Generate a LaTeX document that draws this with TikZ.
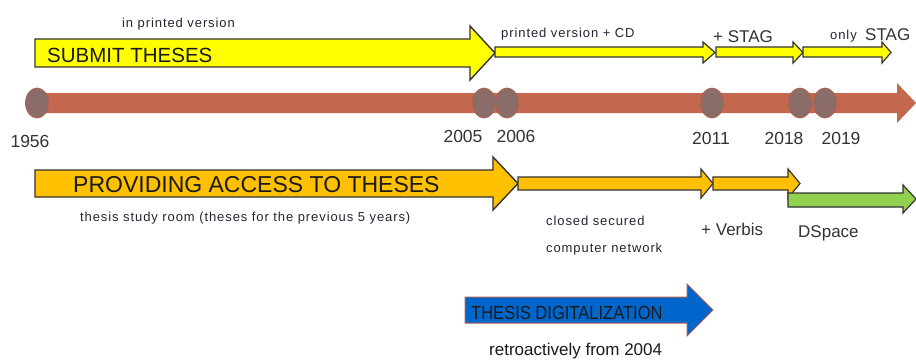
\documentclass[tikz,border=0pt]{standalone}
\usepackage{fontspec}
\usepackage{graphicx}
\usetikzlibrary{shapes.geometric}
\setmainfont{Liberation Sans}
\newfontfamily\smf[LetterSpace=7]{Liberation Sans}
\definecolor{yel}{HTML}{FFFF00}
\definecolor{ora}{HTML}{FFC000}
\definecolor{grn}{HTML}{92D050}
\definecolor{blu}{HTML}{0066CC}
\definecolor{barc}{HTML}{C3674F}
\definecolor{dotc}{HTML}{8A6C68}
\definecolor{dotedge}{HTML}{B0604C}
\definecolor{edge}{HTML}{333333}
\definecolor{txt}{HTML}{1A1A1A}
\definecolor{smtxt}{HTML}{222633}
\definecolor{yeartxt}{HTML}{333333}
\newcommand{\blockarrow}[8]{%
  \draw[#1] (#2,#5) -- (#3,#5) -- (#3,#7) -- (#4,{(#7+#8)/2}) -- (#3,#8) -- (#3,#6) -- (#2,#6) -- cycle;}
\begin{document}
\begin{tikzpicture}[x=1pt,y=-1pt,
  bigarrow/.style={draw=edge, line width=1.4pt, line join=miter},
  smallarrow/.style={draw=edge, line width=1.2pt, line join=miter},
  dot/.style={ellipse, draw=dotedge, fill=dotc, line width=0.8pt, minimum width=23pt, minimum height=30pt, inner sep=0},
  bigtxt/.style={inner sep=0, anchor=base west, text=txt},
  smtxtst/.style={inner sep=0, anchor=base west, text=smtxt, font=\smf\fontsize{13}{15}\selectfont},
  midtxt/.style={inner sep=0, anchor=base west, text=yeartxt, font=\fontsize{17}{20}\selectfont},
  year/.style={inner sep=0, anchor=base, text=yeartxt, font=\fontsize{17.5}{20}\selectfont}]
\useasboundingbox (0,0) rectangle (916,360);
\fill[white] (0,0) rectangle (916,360);

% timeline
\fill[barc] (35,93) -- (897,93) -- (897,83) -- (916,103) -- (897,123) -- (897,113) -- (35,113) -- cycle;
\node[dot] (d1956) at (37,103) {};
\node[dot] (d2005) at (484,103) {};
\node[dot] (d2006) at (507,103) {};
\node[dot] (d2011) at (712,103) {};
\node[dot] (d2018) at (800,103) {};
\node[dot] (d2019) at (825,103) {};

\node[year] (y1956) at (30,147) {1956};
\node[year] (y2005) at (463,142) {2005};
\node[year] (y2006) at (516,142) {2006};
\node[year] (y2011) at (711,144) {2011};
\node[year] (y2018) at (784,144) {2018};
\node[year] (y2019) at (841,144) {2019};

% submit theses
\blockarrow{bigarrow, fill=yel}{35}{470}{495}{39}{67}{26}{80}
\blockarrow{smallarrow, fill=yel}{495}{703}{715}{47}{57}{42}{63}
\blockarrow{smallarrow, fill=yel}{716}{793}{803}{47}{57}{42}{63}
\blockarrow{smallarrow, fill=yel}{803}{882}{891}{47}{57}{42}{63}

\node[smtxtst] (tprinted) at (122,27) {in printed version};
\node[bigtxt, font=\fontsize{20.5}{24}\selectfont] (tsubmit) at (47,62) {SUBMIT THESES};
\node[smtxtst] (tcd) at (501,37) {printed version + CD};
\node[midtxt] (tstag) at (713,42) {+ STAG};
\node[smtxtst] (tonly) at (830,39) {only};
\node[midtxt] (tstag2) at (865,40) {STAG};

% providing access
\blockarrow{bigarrow, fill=ora}{35}{493}{518}{170}{197}{157}{210}
\blockarrow{smallarrow, fill=ora}{518}{701}{713}{177}{190}{169}{198}
\blockarrow{smallarrow, fill=ora}{713}{788}{800}{177}{190}{169}{198}
\blockarrow{smallarrow, fill=grn}{788}{903}{916}{193}{207}{185}{213}

\node[bigtxt, font=\fontsize{23}{27}\selectfont] (tprov) at (73,192) {PROVIDING ACCESS TO THESES};
\node[smtxtst] (troom) at (80,221) {thesis study room (theses for the previous 5 years)};
\node[smtxtst] (tclosed) at (546,225) {closed secured};
\node[smtxtst] (tnet) at (546,252) {computer network};
\node[midtxt] (tverbis) at (701,235) {+ Verbis};
\node[midtxt] (tdspace) at (798,237) {DSpace};

% digitalization
\blockarrow{draw=dotedge, line width=1pt, fill=blu}{465}{687}{713}{297}{323}{284}{336}
\node[bigtxt, font=\fontsize{19}{22}\selectfont] (tdig) at (471,319) {\scalebox{0.87}[1]{THESIS DIGITALIZATION}};
\node[midtxt, text=txt] (tretro) at (489,355) {retroactively from 2004};
\end{tikzpicture}
\end{document}
